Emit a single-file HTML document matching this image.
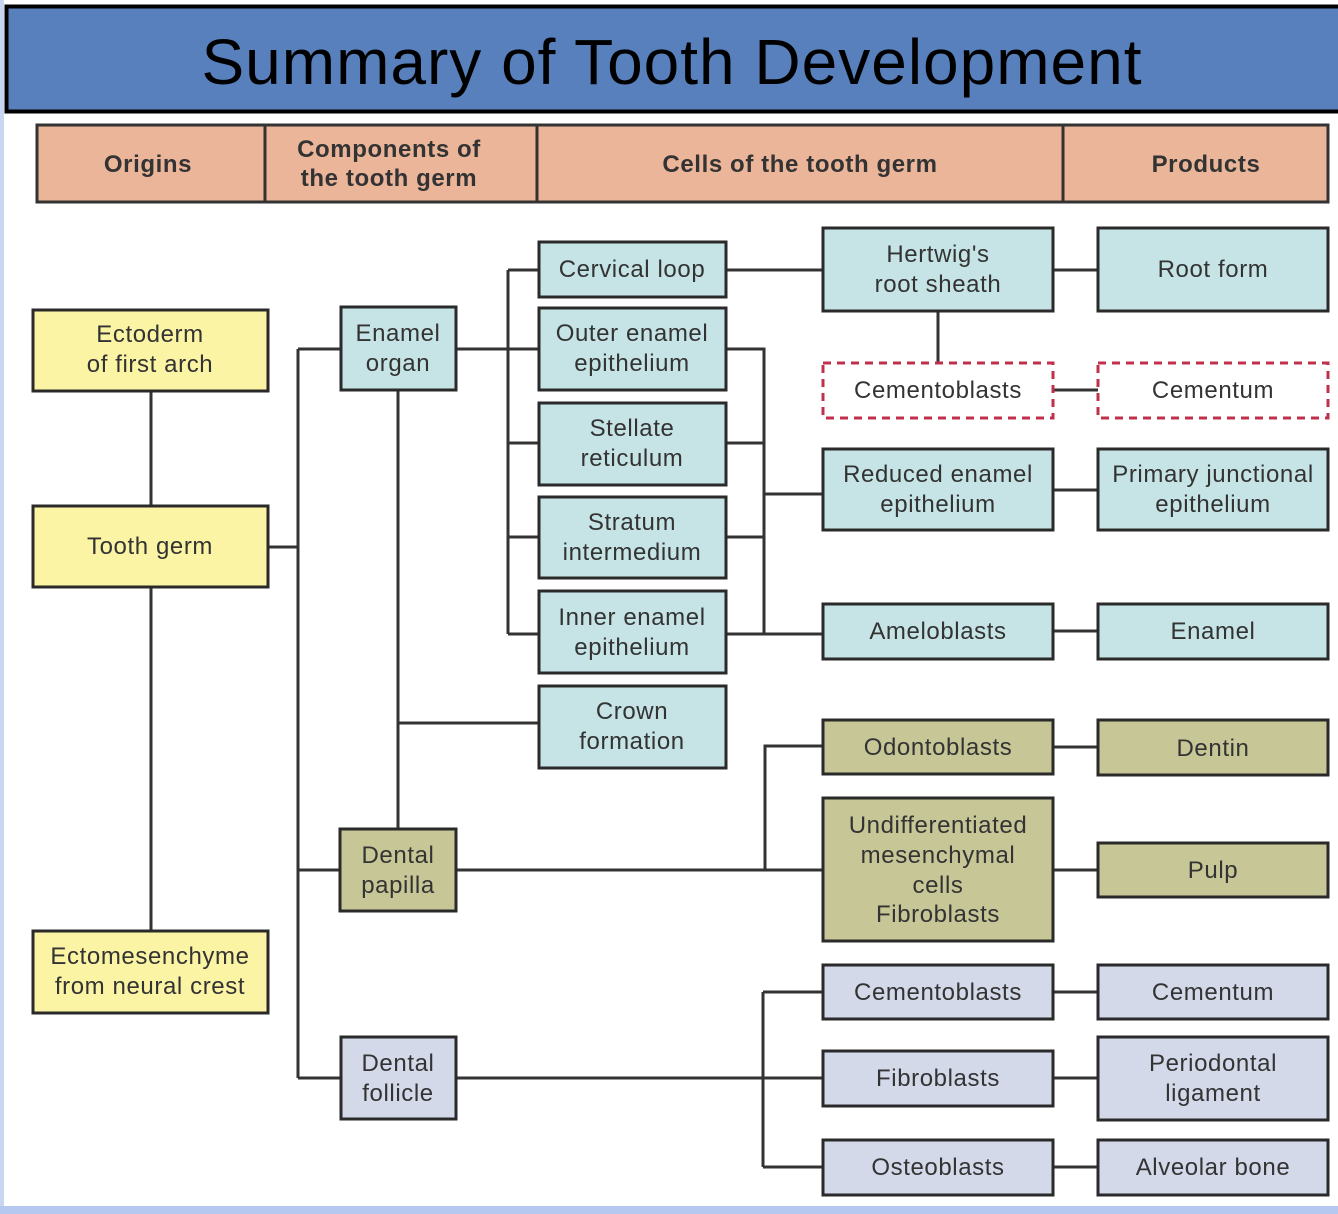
<!DOCTYPE html>
<html><head><meta charset="utf-8"><style>
html,body{margin:0;padding:0;width:1338px;height:1214px;overflow:hidden;background:#fff}
svg{display:block}
text{font-family:"Liberation Sans",Arial,sans-serif;fill:#333;font-size:24px;letter-spacing:0.6px;text-anchor:middle}
</style></head><body>
<svg width="1338" height="1214" viewBox="0 0 1338 1214">
<rect x="0" y="0" width="1338" height="1214" fill="#fff"/>
<rect x="0" y="0" width="4" height="1214" fill="#c9d6f2"/>
<rect x="0" y="1206" width="1338" height="8" fill="#b7c8f0"/>
<rect x="6.5" y="6.5" width="1334" height="105" fill="#5880bd" stroke="#000" stroke-width="4"/>
<text x="672" y="84" style="font-size:64px;fill:#000;letter-spacing:1px">Summary of Tooth Development</text>

<rect x="37" y="125" width="1291" height="77" fill="#ebb59a" stroke="#333" stroke-width="3"/>
<line x1="265" y1="125" x2="265" y2="202" stroke="#333" stroke-width="3"/>
<line x1="537" y1="125" x2="537" y2="202" stroke="#333" stroke-width="3"/>
<line x1="1063" y1="125" x2="1063" y2="202" stroke="#333" stroke-width="3"/>
<g style="font-weight:bold">
<text x="148" y="172">Origins</text>
<text x="389" y="157">Components of</text>
<text x="389" y="186">the tooth germ</text>
<text x="800" y="172">Cells of the tooth germ</text>
<text x="1206" y="172">Products</text>
</g>

<g stroke="#333" stroke-width="3" fill="none">
<path d="M151 391V506M151 587V931"/>
<path d="M268 547H298M298 349V1078M298 349H341M298 870H340M298 1078H341"/>
<path d="M398 390V829M398 723H539"/>
<path d="M456 349H539M508 270V634M508 270H539M508 443H539M508 537H539M508 634H539"/>
<path d="M726 349H764V634M726 443H764M726 537H764M726 634H823M764 494H823"/>
<path d="M726 270H823M938 311V363M1053 270H1098M1053 390H1098M1053 490H1098M1053 631H1098"/>
<path d="M456 870H823M765 870V746H823M1053 747H1098M1053 870H1098"/>
<path d="M456 1078H823M763 992V1167M763 992H823M763 1167H823M1053 992H1098M1053 1078H1098M1053 1167H1098"/>
</g>

<g stroke="#2a2a2a" stroke-width="3">
<rect x="33" y="310" width="235" height="81" fill="#fbf4a4"/>
<rect x="33" y="506" width="235" height="81" fill="#fbf4a4"/>
<rect x="33" y="931" width="235" height="82" fill="#fbf4a4"/>
<rect x="341" y="307" width="115" height="83" fill="#c6e4e6"/>
<rect x="539" y="242" width="187" height="55" fill="#c6e4e6"/>
<rect x="539" y="308" width="187" height="82" fill="#c6e4e6"/>
<rect x="539" y="403" width="187" height="82" fill="#c6e4e6"/>
<rect x="539" y="497" width="187" height="81" fill="#c6e4e6"/>
<rect x="539" y="591" width="187" height="82" fill="#c6e4e6"/>
<rect x="539" y="686" width="187" height="82" fill="#c6e4e6"/>
<rect x="823" y="228" width="230" height="83" fill="#c6e4e6"/>
<rect x="1098" y="228" width="230" height="83" fill="#c6e4e6"/>
<rect x="823" y="449" width="230" height="81" fill="#c6e4e6"/>
<rect x="1098" y="449" width="230" height="81" fill="#c6e4e6"/>
<rect x="823" y="604" width="230" height="55" fill="#c6e4e6"/>
<rect x="1098" y="604" width="230" height="55" fill="#c6e4e6"/>
<rect x="340" y="829" width="116" height="82" fill="#c7c696"/>
<rect x="823" y="720" width="230" height="54" fill="#c7c696"/>
<rect x="1098" y="720" width="230" height="55" fill="#c7c696"/>
<rect x="823" y="798" width="230" height="143" fill="#c7c696"/>
<rect x="1098" y="843" width="230" height="54" fill="#c7c696"/>
<rect x="341" y="1037" width="115" height="82" fill="#d3d9e9"/>
<rect x="823" y="965" width="230" height="54" fill="#d3d9e9"/>
<rect x="1098" y="965" width="230" height="54" fill="#d3d9e9"/>
<rect x="823" y="1051" width="230" height="55" fill="#d3d9e9"/>
<rect x="1098" y="1037" width="230" height="83" fill="#d3d9e9"/>
<rect x="823" y="1140" width="230" height="55" fill="#d3d9e9"/>
<rect x="1098" y="1140" width="230" height="55" fill="#d3d9e9"/>
</g>
<g stroke="#c0304a" stroke-width="3" stroke-dasharray="8,6" fill="#fff">
<rect x="823" y="363" width="230" height="55"/>
<rect x="1098" y="363" width="230" height="55"/>
</g>

<text x="150" y="342">Ectoderm</text><text x="150" y="372">of first arch</text>
<text x="150" y="554">Tooth germ</text>
<text x="150" y="964">Ectomesenchyme</text><text x="150" y="994">from neural crest</text>
<text x="398" y="341">Enamel</text><text x="398" y="371">organ</text>
<text x="398" y="863">Dental</text><text x="398" y="893">papilla</text>
<text x="398" y="1071">Dental</text><text x="398" y="1101">follicle</text>
<text x="632" y="277">Cervical loop</text>
<text x="632" y="341">Outer enamel</text><text x="632" y="371">epithelium</text>
<text x="632" y="436">Stellate</text><text x="632" y="466">reticulum</text>
<text x="632" y="530">Stratum</text><text x="632" y="560">intermedium</text>
<text x="632" y="625">Inner enamel</text><text x="632" y="655">epithelium</text>
<text x="632" y="719">Crown</text><text x="632" y="749">formation</text>
<text x="938" y="262">Hertwig's</text><text x="938" y="292">root sheath</text>
<text x="938" y="398">Cementoblasts</text>
<text x="938" y="482">Reduced enamel</text><text x="938" y="512">epithelium</text>
<text x="938" y="639">Ameloblasts</text>
<text x="938" y="755">Odontoblasts</text>
<text x="938" y="833">Undifferentiated</text><text x="938" y="863">mesenchymal</text><text x="938" y="893">cells</text><text x="938" y="922">Fibroblasts</text>
<text x="938" y="1000">Cementoblasts</text>
<text x="938" y="1086">Fibroblasts</text>
<text x="938" y="1175">Osteoblasts</text>
<text x="1213" y="277">Root form</text>
<text x="1213" y="398">Cementum</text>
<text x="1213" y="482">Primary junctional</text><text x="1213" y="512">epithelium</text>
<text x="1213" y="639">Enamel</text>
<text x="1213" y="756">Dentin</text>
<text x="1213" y="878">Pulp</text>
<text x="1213" y="1000">Cementum</text>
<text x="1213" y="1071">Periodontal</text><text x="1213" y="1101">ligament</text>
<text x="1213" y="1175">Alveolar bone</text>
</svg>
</body></html>
